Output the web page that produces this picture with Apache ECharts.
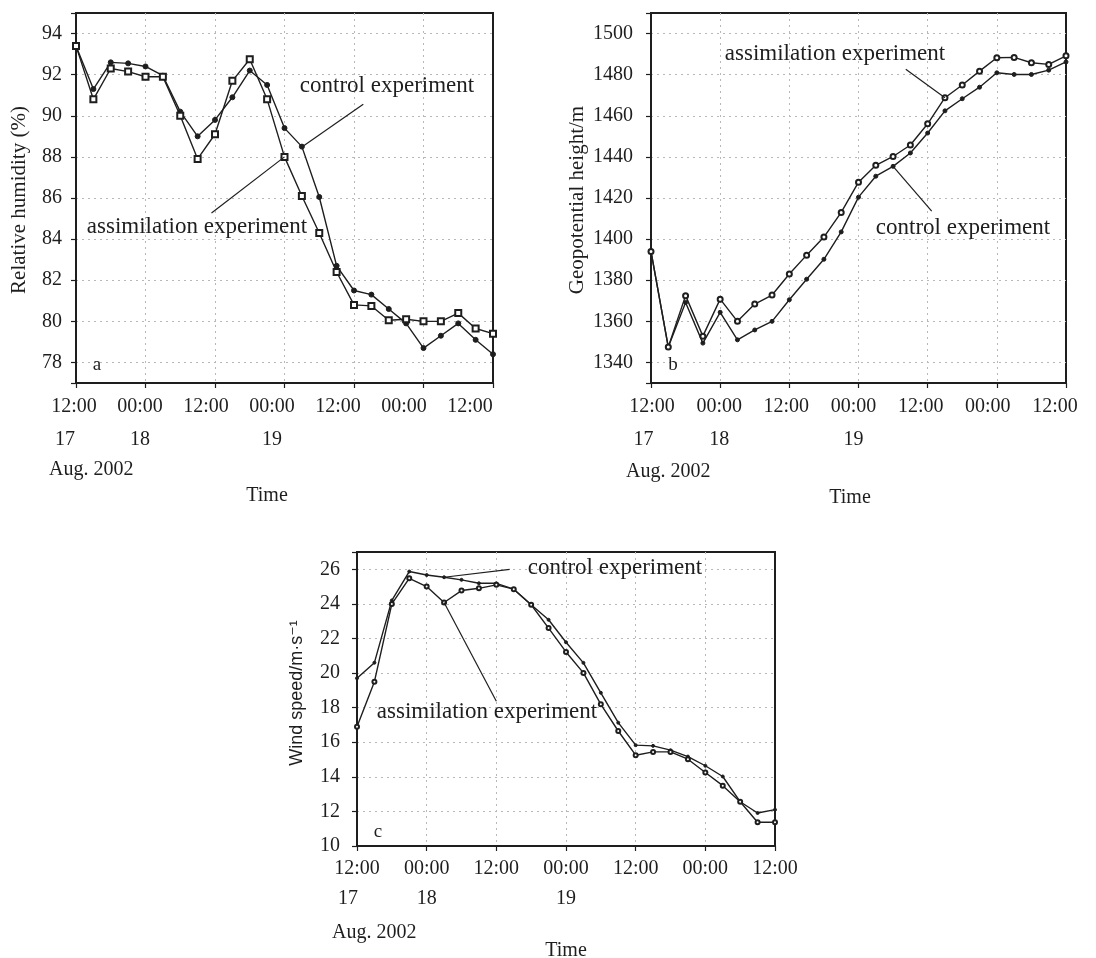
<!DOCTYPE html>
<html>
<head>
<meta charset="utf-8">
<script src="https://cdn.jsdelivr.net/npm/echarts@6/dist/echarts.min.js"></script>
<style>
html,body{margin:0;padding:0;background:#fff;}
#chart{width:1096px;height:958px;}
</style>
</head>
<body>
<div id="chart"></div>
<script>
// ---- data ----
const hours = [0,3,6,9,12,15,18,21,24,27,30,33,36,39,42,45,48,51,54,57,60,63,66,69,72];
const timeLabels = ['12:00','00:00','12:00','00:00','12:00','00:00','12:00'];
const dayLabels = ['17','18','','19','','',''];

// (a) relative humidity (%)
const rhControl = [93.4,91.3,92.6,92.55,92.4,91.95,90.2,89.0,89.8,90.9,92.2,91.5,89.4,88.5,86.05,82.7,81.5,81.3,80.6,79.9,78.7,79.3,79.9,79.1,78.4];
const rhAssim   = [93.4,90.8,92.3,92.15,91.9,91.9,90.0,87.9,89.1,91.7,92.75,90.8,88.0,86.1,84.3,82.4,80.8,80.75,80.05,80.1,80.0,80.0,80.4,79.65,79.4];

// (b) geopotential height (m)
const ghAssim   = [1394,1347.5,1372.5,1352.8,1370.8,1360,1368.4,1372.8,1383,1392.2,1401,1413,1427.7,1435.9,1440.2,1445.8,1456.1,1468.8,1475,1481.7,1488.2,1488.4,1485.8,1485,1489.2];
const ghControl = [1394,1347.5,1369.2,1349.4,1364.4,1351,1355.8,1360,1370.5,1380.5,1390.2,1403.5,1420.4,1430.6,1435.4,1441.9,1451.6,1462.4,1468.3,1473.9,1480.9,1480.1,1480.1,1482.2,1486.2];

// (c) wind speed (m/s)
const wsControl = [19.7,20.6,24.2,25.87,25.67,25.54,25.39,25.19,25.19,24.85,23.95,23.08,21.78,20.59,18.86,17.13,15.83,15.79,15.54,15.17,14.64,14.02,12.56,11.91,12.1];
const wsAssim   = [16.9,19.5,24.0,25.48,25.0,24.08,24.77,24.9,25.1,24.85,23.95,22.6,21.22,20.01,18.19,16.65,15.25,15.44,15.44,15.02,14.25,13.49,12.56,11.37,11.37];

// leader-line anchors (data coordinates)
const leadersA = { control: [[39,88.48],[49.6,90.56]], assim: [[36,88.0],[23.4,85.27]] };
const leadersB = { assim: [[51,1468.8],[44.2,1482.6]], control: [[42,1435.4],[48.7,1413.6]] };
const leadersC = { control: [[15,25.54],[26.3,26.0]], assim: [[15,24.08],[24.0,18.37]] };

const FONT = '"Liberation Serif","DejaVu Serif","Times New Roman",serif';
const SANS = '"Liberation Sans","DejaVu Sans",Arial,sans-serif';
const INK = '#1e1e1e';
function pairs(vals){ return hours.map((h,i)=>[h, vals[i]]); }

function labelCfg(lh, margin, firstDayNudge){
  const base = {fontFamily:FONT, fontSize:20, color:INK, lineHeight:lh};
  return {
    show:true, color:INK, fontFamily:FONT, fontSize:20, lineHeight:lh, margin:margin,
    showMinLabel:true, showMaxLabel:true, hideOverlap:false,
    rich:{ t: base, d: base, d0: Object.assign({}, base, {padding:[0, 2*firstDayNudge, 0, 0]}) },
    formatter:function(v){
      const i=Math.round(v/12); const d=dayLabels[i];
      const t='{t|'+timeLabels[i]+'}';
      return d ? t+'\n{'+(i===0?'d0':'d')+'|'+d+'}' : t;
    }
  };
}
function xAxisCfg(gi, label){
  return {
    gridIndex: gi, type:'value', min:0, max:72, interval:12,
    axisLine:{show:true, lineStyle:{color:INK, width:2}},
    axisTick:{show:true, inside:false, length:5, lineStyle:{color:INK, width:1.2}},
    axisLabel: label || {show:false},
    splitLine:{show:true, showMinLine:false, showMaxLine:false, lineStyle:{color:'#b8b8b8', type:[2,4], width:1}}
  };
}
// label-only axis (the scan prints its time labels slightly off the tick marks)
function labelAxis(gi, label){
  return {
    gridIndex: gi, type:'value', min:0, max:72, interval:12,
    axisLine:{show:false}, axisTick:{show:false}, splitLine:{show:false},
    axisLabel: label
  };
}
function yAxisCfg(gi, min, max, split, step, margin){
  return {
    gridIndex: gi, type:'value', min:min, max:max, splitNumber:split,
    axisLine:{show:true, lineStyle:{color:INK, width:2}},
    axisTick:{show:true, inside:false, length:5, lineStyle:{color:INK, width:1.2}},
    axisLabel:{color:INK, fontFamily:FONT, fontSize:20, margin:margin,
      formatter:function(v){ return (Math.abs(v % step) < 1e-6 && v>min-1e-6 && v<max-1e-6) ? String(v) : ''; }},
    splitLine:{show:true, showMinLine:false, showMaxLine:false, lineStyle:{color:'#b8b8b8', type:[2,4], width:1}}
  };
}
function hiddenY(gi){ return {gridIndex:gi, type:'value', min:0, max:1, show:false}; }
function lineSeries(gi, vals, symbol, size, leader){
  const s = {
    type:'line', xAxisIndex:gi, yAxisIndex:gi, data:pairs(vals),
    symbol:symbol, symbolSize:size, showSymbol:true,
    lineStyle:{color:INK, width:1.4},
    itemStyle:{color:INK, borderColor:INK, borderWidth:1},
    animation:false, silent:true, z:3
  };
  if (leader) {
    s.markLine = {
      silent:true, animation:false, symbol:['none','none'],
      lineStyle:{color:INK, width:1.2, type:'solid'}, label:{show:false},
      data:[[{coord:leader[0]},{coord:leader[1]}]]
    };
  }
  return s;
}
function txt(x, y, text, size, align, rot, fam){
  const o = {type:'text', x:x, y:y, silent:true, z:10,
    style:{text:text, font: size+'px '+(fam||FONT), fill:INK,
      align:align||'center', textAlign:align||'center',
      verticalAlign:'middle', textVerticalAlign:'middle'}};
  if (rot) o.rotation = rot;
  return o;
}
function gridCfg(left, top, width, height, show){
  return {left:left, top:top, width:width, height:height, show:show!==false, borderColor:INK, borderWidth:2,
    backgroundColor:'transparent', containLabel:false, outerBoundsMode:'none'};
}

const chart = echarts.init(document.getElementById('chart'), null, {renderer:'canvas'});
chart.setOption({
  backgroundColor:'#fff',
  animation:false,
  grid:[
    gridCfg(76, 13, 417, 370), gridCfg(651, 13, 415, 370), gridCfg(357, 552, 418, 294),
    gridCfg(74, 13, 396, 370, false), gridCfg(652, 13, 403, 370, false)
  ],
  xAxis:[
    xAxisCfg(0), xAxisCfg(1), xAxisCfg(2, labelCfg(30, 8, 9)),
    labelAxis(3, labelCfg(33, 7, 9)), labelAxis(4, labelCfg(33, 7, 8.5))
  ],
  yAxis:[
    yAxisCfg(0, 77, 95, 9, 2, 14),
    yAxisCfg(1, 1330, 1510, 9, 20, 18),
    yAxisCfg(2, 10, 27, 8, 2, 17),
    hiddenY(3), hiddenY(4)
  ],
  series:[
    lineSeries(0, rhControl, 'circle', 5, leadersA.control),
    lineSeries(0, rhAssim, 'emptyRect', 6, leadersA.assim),
    lineSeries(1, ghControl, 'circle', 4, leadersB.control),
    lineSeries(1, ghAssim, 'emptyCircle', 5, leadersB.assim),
    lineSeries(2, wsControl, 'circle', 3, leadersC.control),
    lineSeries(2, wsAssim, 'emptyCircle', 4, leadersC.assim)
  ],
  graphic:[
    // axis titles
    txt(19, 200, 'Relative humidity (%)', 21, 'center', Math.PI/2),
    txt(577, 200, 'Geopotential height/m', 21, 'center', Math.PI/2),
    txt(297, 693, 'Wind speed/m·s⁻¹', 18, 'center', Math.PI/2, SANS),
    txt(49, 470, 'Aug. 2002', 20, 'left'),
    txt(267, 496, 'Time', 20, 'center'),
    txt(626, 472, 'Aug. 2002', 20, 'left'),
    txt(850, 498, 'Time', 20, 'center'),
    txt(332, 933, 'Aug. 2002', 20, 'left'),
    txt(566, 951, 'Time', 20, 'center'),
    // panel letters
    txt(97, 365, 'a', 19, 'center'),
    txt(673, 365, 'b', 19, 'center'),
    txt(378, 832, 'c', 19, 'center'),
    // annotations
    txt(387, 86, 'control experiment', 23, 'center'),
    txt(197, 227, 'assimilation experiment', 23, 'center'),
    txt(835, 54, 'assimilation experiment', 23, 'center'),
    txt(963, 228, 'control experiment', 23, 'center'),
    txt(615, 568, 'control experiment', 23, 'center'),
    txt(487, 712, 'assimilation experiment', 23, 'center')
  ]
});
</script>
</body>
</html>
